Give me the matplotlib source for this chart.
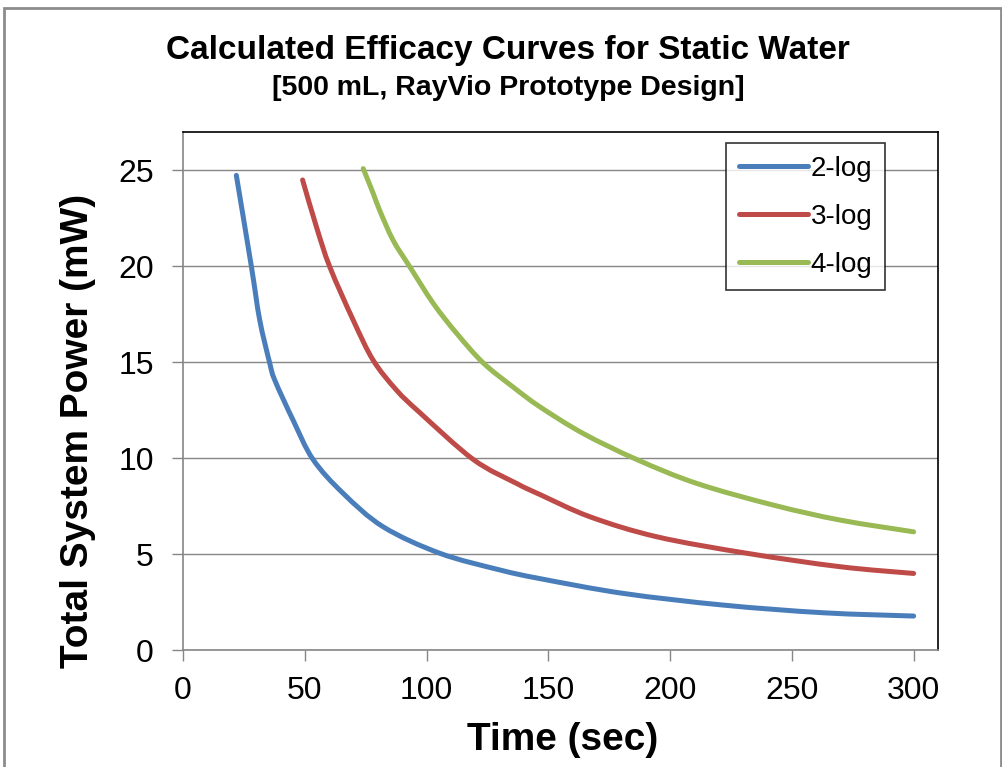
import matplotlib
matplotlib.use("Agg")
import matplotlib.pyplot as plt
from matplotlib.patches import Rectangle, PathPatch
from matplotlib.path import Path
from matplotlib.lines import Line2D

plt.rcParams['font.family'] = ['Liberation Sans', 'DejaVu Sans']

# Data
t_2log = [21.9, 28.1, 31.5, 35.6, 37.7, 45.2, 53.4, 65.8, 82.2, 105.5, 130.2, 146.6, 180.8, 221.9, 263.0, 300.0]
p_2log = [24.74, 19.97, 17.2, 14.96, 14.06, 11.98, 9.93, 8.16, 6.42, 5.04, 4.17, 3.72, 2.95, 2.34, 1.94, 1.77]

t_3log = [49.1, 54.8, 60.3, 69.9, 78.1, 87.7, 97.0, 119.2, 137.0, 146.6, 167.2, 194.6, 231.6, 269.9, 300.0]
p_3log = [24.5, 22.05, 19.96, 17.19, 15.1, 13.54, 12.4, 9.93, 8.68, 8.1, 6.94, 5.9, 5.04, 4.34, 3.99]

t_4log = [74.0, 78.1, 80.8, 86.3, 93.2, 102.8, 112.4, 123.3, 135.6, 146.6, 164.4, 186.3, 211.0, 242.5, 269.9, 300.0]
p_4log = [25.09, 23.8, 22.9, 21.35, 19.96, 18.06, 16.5, 14.96, 13.7, 12.67, 11.28, 9.93, 8.68, 7.55, 6.77, 6.16]

series_names = ['2-log', '3-log', '4-log']
x_ticks = [0, 50, 100, 150, 200, 250, 300]
y_ticks = [0, 5, 10, 15, 20, 25]

colors = ['#4A7EBB', '#BE4B48', '#98B954']


def smooth_path(xs, ys):
    """Excel-style smoothed line through the points (cubic Bezier segments)."""
    pts = list(zip(xs, ys))
    n = len(pts)
    verts = [pts[0]]
    codes = [Path.MOVETO]
    for i in range(n - 1):
        p0 = pts[i - 1] if i > 0 else pts[i]
        p1 = pts[i]
        p2 = pts[i + 1]
        p3 = pts[i + 2] if i + 2 < n else pts[i + 1]
        c1 = (p1[0] + (p2[0] - p0[0]) / 6.0, p1[1] + (p2[1] - p0[1]) / 6.0)
        c2 = (p2[0] - (p3[0] - p1[0]) / 6.0, p2[1] - (p3[1] - p1[1]) / 6.0)
        verts += [c1, c2, p2]
        codes += [Path.CURVE4, Path.CURVE4, Path.CURVE4]
    return Path(verts, codes)


fig = plt.figure(figsize=(10.03, 7.67), dpi=100)
fig.patches.append(Rectangle((4/1003, -0.01), (1001-4)/1003, 1 - 8/767 + 0.01,
                             transform=fig.transFigure, fill=False,
                             edgecolor='#8C8C8C', linewidth=2, zorder=0))

ax = fig.add_axes([183/1003, 1 - 650/767, (938-183)/1003, (650-132)/767])

handles = []
for (t, p), name, c in zip([(t_2log, p_2log), (t_3log, p_3log), (t_4log, p_4log)], series_names, colors):
    patch = PathPatch(smooth_path(t, p), facecolor='none', edgecolor=c, linewidth=3.6,
                      capstyle='round', joinstyle='round', zorder=3)
    ax.add_patch(patch)
    handles.append(Line2D([], [], color=c, linewidth=3.6, solid_capstyle='round', label=name))

ax.set_xlim(0, 310)
ax.set_ylim(0, 27)
ax.set_xticks(x_ticks)
ax.set_yticks(y_ticks)
ax.tick_params(axis='both', labelsize=23, length=8, width=1, color='#868686', direction='out')
ax.tick_params(axis='x', pad=11)
ax.tick_params(axis='y', pad=13)
ax.grid(axis='y', color='#868686', linewidth=1)
ax.set_axisbelow(True)

for side in ['left', 'bottom']:
    ax.spines[side].set_color('#868686')
    ax.spines[side].set_linewidth(1.2)
for side in ['top', 'right']:
    ax.spines[side].set_color('#000000')
    ax.spines[side].set_linewidth(1.2)

ax.set_xlabel('Time (sec)', fontsize=28, fontweight='bold', va='center')
ax.xaxis.set_label_coords((563 - 183) / 755, (650 - 740) / 518)
ax.set_ylabel('Total System Power (mW)', fontsize=28, fontweight='bold', va='center')
ax.yaxis.set_label_coords((78 - 183) / 755, (650 - 431) / 518)

fig.text(508/1003, 1 - 50/767, 'Calculated Efficacy Curves for Static Water',
         ha='center', va='center', fontsize=24, fontweight='bold')
fig.text(508/1003, 1 - 88/767, '[500 mL, RayVio Prototype Design]',
         ha='center', va='center', fontsize=20.5, fontweight='bold')

leg = ax.legend(handles=handles, loc='upper right',
                bbox_to_anchor=((885-183)/755, (650-143)/518),
                fontsize=20, frameon=True, fancybox=False, handlelength=2.5,
                borderpad=0.45, labelspacing=0.8, handletextpad=0.1, borderaxespad=0)
leg.get_frame().set_edgecolor('black')
leg.get_frame().set_linewidth(1.2)

fig.savefig('out.png', dpi=100)
